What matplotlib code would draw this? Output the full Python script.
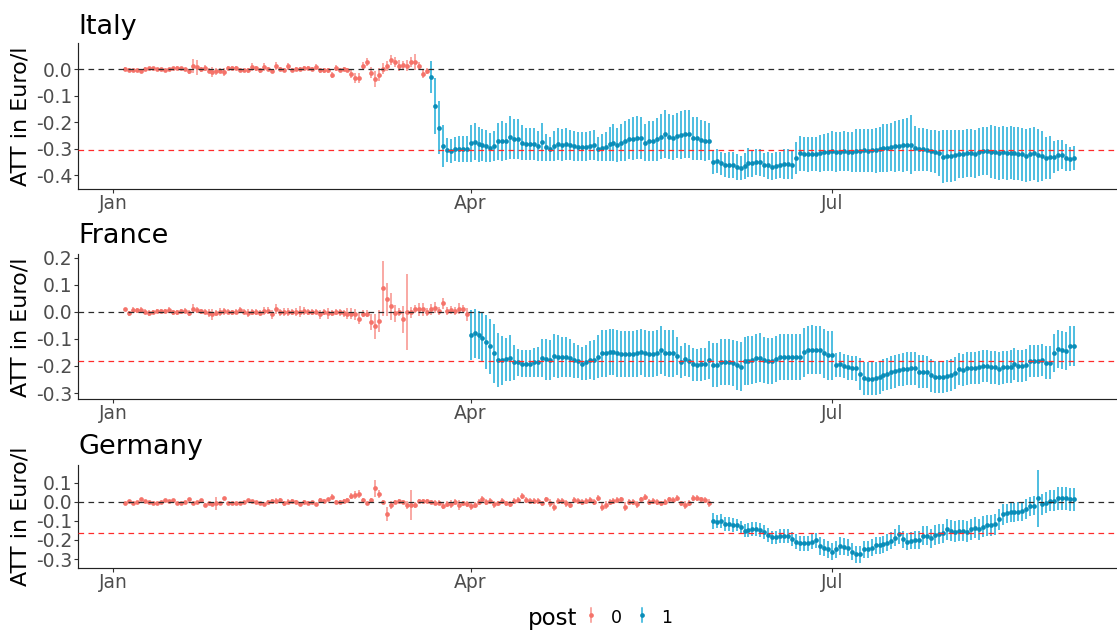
import numpy as np
import matplotlib
matplotlib.use("Agg")
import matplotlib.pyplot as plt
import matplotlib.dates as mdates
from matplotlib.lines import Line2D

plt.rcParams['font.family'] = ['DejaVu Sans']
plt.rcParams['axes.unicode_minus'] = False

# ---------------- data (ATT in Euro/l, daily) ----------------
countries = ["Italy", "France", "Germany"]
pre_start = ["2022-01-04", "2022-01-04", "2022-01-04"]
post_start = ["2022-03-22", "2022-04-01", "2022-06-01"]
att_mean = [-0.306, -0.182, -0.165]

italy_pre = [
    0.000, -0.003, -0.004, -0.004, -0.008, 0.000, 0.003, 0.003, -0.001, -0.001,
    -0.004, 0.000, 0.003, 0.004, 0.003, -0.001, -0.009, 0.011, 0.006, -0.001,
    0.003, -0.006, -0.011, -0.009, -0.006, -0.011, 0.004, 0.004, 0.005, -0.003,
    -0.005, -0.005, 0.009, 0.003, -0.005, 0.006, 0.000, -0.006, 0.011, -0.001,
    -0.004, 0.011, -0.004, -0.001, 0.001, 0.003, 0.005, 0.000, 0.008, -0.005,
    -0.005, -0.005, -0.023, 0.003, -0.003, -0.001, -0.003, -0.019, -0.033, -0.033,
    0.013, 0.026, -0.014, -0.039, -0.021, 0.001, 0.011, 0.034, 0.026, 0.013,
    0.016, 0.013, 0.026, 0.026, 0.011, -0.019, -0.008]
italy_pre_err = [
    0.006, 0.006, 0.005, 0.006, 0.006, 0.006, 0.006, 0.005, 0.006, 0.006,
    0.006, 0.005, 0.006, 0.006, 0.005, 0.006, 0.008, 0.025, 0.028, 0.010,
    0.012, 0.010, 0.020, 0.012, 0.010, 0.015, 0.008, 0.008, 0.008, 0.006,
    0.006, 0.008, 0.015, 0.010, 0.008, 0.015, 0.008, 0.008, 0.015, 0.008,
    0.008, 0.013, 0.008, 0.008, 0.008, 0.008, 0.008, 0.008, 0.010, 0.008,
    0.008, 0.008, 0.012, 0.012, 0.008, 0.008, 0.008, 0.015, 0.020, 0.020,
    0.012, 0.015, 0.020, 0.030, 0.025, 0.020, 0.020, 0.020, 0.020, 0.020,
    0.015, 0.020, 0.020, 0.030, 0.015, 0.015, 0.012]
italy_post = [
    -0.030, -0.139, -0.220, -0.289, -0.305, -0.308, -0.302, -0.301, -0.301, -0.301,
    -0.279, -0.273, -0.283, -0.286, -0.289, -0.296, -0.289, -0.271, -0.269, -0.271,
    -0.257, -0.263, -0.263, -0.277, -0.282, -0.282, -0.282, -0.289, -0.274, -0.294,
    -0.301, -0.289, -0.282, -0.286, -0.282, -0.286, -0.289, -0.292, -0.292, -0.292,
    -0.288, -0.286, -0.301, -0.296, -0.292, -0.282, -0.277, -0.286, -0.277, -0.269,
    -0.264, -0.262, -0.258, -0.260, -0.277, -0.269, -0.269, -0.264, -0.254, -0.244,
    -0.254, -0.258, -0.251, -0.248, -0.243, -0.244, -0.261, -0.261, -0.267, -0.269,
    -0.271, -0.348, -0.346, -0.355, -0.361, -0.361, -0.360, -0.368, -0.373, -0.365,
    -0.352, -0.355, -0.350, -0.351, -0.361, -0.362, -0.367, -0.363, -0.360, -0.357,
    -0.357, -0.360, -0.336, -0.317, -0.320, -0.321, -0.320, -0.320, -0.317, -0.313,
    -0.312, -0.307, -0.313, -0.310, -0.308, -0.310, -0.313, -0.307, -0.307, -0.306,
    -0.307, -0.306, -0.305, -0.302, -0.298, -0.296, -0.294, -0.291, -0.288, -0.286,
    -0.284, -0.284, -0.298, -0.302, -0.302, -0.305, -0.308, -0.311, -0.317, -0.330,
    -0.327, -0.327, -0.325, -0.321, -0.321, -0.317, -0.317, -0.318, -0.313, -0.308,
    -0.308, -0.311, -0.313, -0.317, -0.313, -0.316, -0.315, -0.317, -0.318, -0.320,
    -0.326, -0.320, -0.317, -0.325, -0.327, -0.335, -0.332, -0.332, -0.325, -0.322,
    -0.333, -0.337, -0.333]
italy_post_err = [
    0.060, 0.105, 0.100, 0.078, 0.045, 0.045, 0.045, 0.050, 0.050, 0.050,
    0.070, 0.070, 0.065, 0.060, 0.060, 0.055, 0.055, 0.070, 0.075, 0.070,
    0.080, 0.075, 0.075, 0.065, 0.060, 0.060, 0.060, 0.055, 0.070, 0.050,
    0.045, 0.055, 0.060, 0.060, 0.060, 0.055, 0.055, 0.055, 0.055, 0.055,
    0.055, 0.055, 0.045, 0.050, 0.055, 0.065, 0.070, 0.065, 0.070, 0.075,
    0.075, 0.080, 0.080, 0.080, 0.070, 0.075, 0.075, 0.080, 0.085, 0.090,
    0.085, 0.085, 0.085, 0.090, 0.090, 0.090, 0.080, 0.080, 0.075, 0.075,
    0.070, 0.045, 0.045, 0.045, 0.045, 0.050, 0.050, 0.050, 0.045, 0.050,
    0.055, 0.050, 0.050, 0.050, 0.045, 0.050, 0.050, 0.050, 0.050, 0.055,
    0.055, 0.055, 0.060, 0.065, 0.065, 0.065, 0.065, 0.065, 0.070, 0.070,
    0.070, 0.075, 0.075, 0.075, 0.075, 0.075, 0.075, 0.080, 0.080, 0.080,
    0.080, 0.080, 0.085, 0.085, 0.090, 0.090, 0.090, 0.095, 0.095, 0.100,
    0.100, 0.110, 0.085, 0.080, 0.080, 0.080, 0.080, 0.080, 0.085, 0.100,
    0.097, 0.097, 0.097, 0.090, 0.090, 0.090, 0.090, 0.090, 0.090, 0.090,
    0.090, 0.100, 0.100, 0.100, 0.100, 0.100, 0.100, 0.100, 0.100, 0.100,
    0.100, 0.100, 0.100, 0.100, 0.095, 0.080, 0.080, 0.060, 0.060, 0.055,
    0.050, 0.045, 0.045]

france_pre = [
    0.009, -0.006, 0.006, 0.005, 0.006, 0.000, -0.004, 0.000, 0.002, 0.002,
    0.002, 0.006, -0.002, -0.002, 0.002, 0.004, -0.004, 0.012, 0.006, 0.002,
    0.000, -0.006, -0.009, -0.004, 0.000, 0.001, 0.000, -0.002, 0.000, 0.007,
    0.000, -0.006, 0.000, 0.000, -0.004, 0.004, 0.004, -0.010, 0.010, -0.002,
    0.000, -0.002, -0.001, 0.000, 0.000, 0.004, 0.000, 0.000, 0.000, -0.010,
    0.000, -0.006, -0.005, 0.000, -0.002, -0.006, -0.007, -0.007, -0.010, -0.025,
    -0.007, -0.007, -0.037, -0.054, -0.033, 0.086, 0.046, 0.021, -0.006, 0.000,
    -0.027, 0.000, -0.002, 0.010, 0.009, 0.009, 0.000, 0.009, 0.015, 0.004,
    0.031, 0.002, 0.006, 0.002, 0.012, 0.011, -0.010]
france_pre_err = [
    0.005, 0.008, 0.010, 0.010, 0.012, 0.010, 0.010, 0.008, 0.008, 0.008,
    0.008, 0.010, 0.010, 0.010, 0.010, 0.010, 0.010, 0.015, 0.012, 0.010,
    0.010, 0.015, 0.020, 0.012, 0.015, 0.012, 0.010, 0.010, 0.010, 0.010,
    0.010, 0.015, 0.012, 0.012, 0.012, 0.015, 0.012, 0.015, 0.020, 0.012,
    0.015, 0.015, 0.012, 0.015, 0.020, 0.015, 0.012, 0.012, 0.010, 0.015,
    0.012, 0.020, 0.012, 0.012, 0.012, 0.012, 0.020, 0.020, 0.020, 0.020,
    0.012, 0.012, 0.030, 0.045, 0.040, 0.100, 0.060, 0.050, 0.030, 0.015,
    0.050, 0.140, 0.020, 0.015, 0.025, 0.025, 0.015, 0.020, 0.020, 0.015,
    0.020, 0.015, 0.015, 0.015, 0.020, 0.015, 0.025]
france_post = [
    -0.086, -0.080, -0.086, -0.095, -0.113, -0.128, -0.154, -0.177, -0.179, -0.176,
    -0.170, -0.186, -0.187, -0.192, -0.192, -0.191, -0.187, -0.186, -0.172, -0.176,
    -0.178, -0.162, -0.166, -0.167, -0.167, -0.170, -0.179, -0.183, -0.191, -0.186,
    -0.179, -0.178, -0.166, -0.154, -0.154, -0.148, -0.148, -0.154, -0.156, -0.157,
    -0.157, -0.157, -0.154, -0.148, -0.154, -0.157, -0.156, -0.151, -0.141, -0.151,
    -0.154, -0.154, -0.164, -0.186, -0.176, -0.181, -0.194, -0.197, -0.194, -0.193,
    -0.178, -0.197, -0.197, -0.184, -0.186, -0.187, -0.188, -0.198, -0.203, -0.182,
    -0.181, -0.178, -0.172, -0.170, -0.178, -0.182, -0.182, -0.176, -0.166, -0.168,
    -0.168, -0.167, -0.166, -0.168, -0.150, -0.141, -0.140, -0.141, -0.141, -0.154,
    -0.160, -0.161, -0.197, -0.194, -0.200, -0.205, -0.207, -0.209, -0.230, -0.246,
    -0.247, -0.247, -0.246, -0.242, -0.234, -0.229, -0.224, -0.220, -0.215, -0.213,
    -0.210, -0.209, -0.209, -0.221, -0.221, -0.222, -0.235, -0.240, -0.241, -0.240,
    -0.237, -0.234, -0.226, -0.212, -0.215, -0.209, -0.208, -0.207, -0.205, -0.200,
    -0.200, -0.205, -0.205, -0.210, -0.205, -0.203, -0.202, -0.192, -0.200, -0.200,
    -0.197, -0.182, -0.181, -0.182, -0.178, -0.188, -0.188, -0.151, -0.139, -0.141,
    -0.145, -0.126, -0.126]
france_post_err = [
    0.092, 0.090, 0.090, 0.090, 0.100, 0.100, 0.110, 0.100, 0.090, 0.080,
    0.085, 0.065, 0.050, 0.050, 0.050, 0.050, 0.055, 0.055, 0.070, 0.075,
    0.075, 0.080, 0.080, 0.075, 0.075, 0.070, 0.065, 0.060, 0.060, 0.065,
    0.070, 0.075, 0.080, 0.085, 0.085, 0.085, 0.085, 0.085, 0.085, 0.085,
    0.085, 0.085, 0.085, 0.085, 0.085, 0.085, 0.085, 0.085, 0.090, 0.085,
    0.085, 0.085, 0.070, 0.060, 0.060, 0.060, 0.060, 0.060, 0.060, 0.060,
    0.070, 0.080, 0.080, 0.085, 0.085, 0.085, 0.085, 0.090, 0.090, 0.090,
    0.090, 0.090, 0.090, 0.090, 0.085, 0.085, 0.085, 0.085, 0.085, 0.085,
    0.085, 0.085, 0.085, 0.085, 0.090, 0.090, 0.090, 0.090, 0.090, 0.090,
    0.090, 0.090, 0.045, 0.045, 0.045, 0.045, 0.045, 0.045, 0.060, 0.060,
    0.060, 0.060, 0.060, 0.060, 0.060, 0.060, 0.060, 0.060, 0.060, 0.060,
    0.060, 0.060, 0.060, 0.060, 0.060, 0.060, 0.060, 0.060, 0.060, 0.060,
    0.060, 0.060, 0.060, 0.060, 0.060, 0.060, 0.060, 0.060, 0.060, 0.060,
    0.060, 0.060, 0.060, 0.060, 0.060, 0.060, 0.060, 0.060, 0.060, 0.060,
    0.060, 0.060, 0.060, 0.060, 0.060, 0.060, 0.060, 0.070, 0.070, 0.070,
    0.070, 0.075, 0.075]

germany_pre = [
    -0.009, 0.004, -0.005, 0.000, 0.014, 0.002, 0.000, -0.009, -0.009, 0.000,
    0.009, 0.005, 0.007, -0.009, -0.009, -0.002, 0.012, -0.009, 0.000, 0.007,
    -0.017, -0.009, -0.012, -0.009, -0.009, 0.019, -0.009, -0.009, -0.007, -0.009,
    0.000, 0.009, 0.005, -0.002, -0.009, -0.014, -0.002, 0.005, 0.005, 0.007,
    -0.009, 0.000, 0.004, 0.000, -0.012, -0.002, -0.005, -0.002, -0.014, 0.009,
    0.004, 0.014, 0.026, 0.000, 0.000, 0.004, 0.009, 0.030, 0.035, 0.040,
    0.009, -0.009, 0.009, 0.070, 0.040, 0.000, -0.066, -0.017, 0.000, 0.002,
    -0.002, -0.017, -0.017, -0.017, 0.005, 0.004, 0.002, 0.000, -0.005, -0.005,
    -0.023, -0.012, -0.012, 0.000, -0.016, -0.009, -0.012, -0.023, -0.017, 0.000,
    0.014, 0.000, 0.005, -0.014, -0.009, 0.005, -0.009, -0.010, 0.004, 0.009,
    0.030, 0.009, 0.005, 0.005, 0.005, -0.009, 0.012, -0.005, -0.026, 0.004,
    0.004, -0.009, -0.016, 0.009, 0.005, 0.000, 0.005, 0.009, 0.000, 0.019,
    -0.026, -0.017, -0.003, 0.004, 0.009, 0.012, -0.026, -0.003, 0.000, -0.014,
    0.012, 0.025, 0.000, 0.005, 0.000, -0.009, 0.000, 0.012, 0.009, 0.018,
    -0.009, -0.017, -0.005, 0.021, 0.018, 0.012, 0.009, -0.005]
germany_pre_err = [
    0.006, 0.006, 0.006, 0.006, 0.006, 0.006, 0.006, 0.006, 0.006, 0.006,
    0.006, 0.006, 0.006, 0.006, 0.006, 0.006, 0.006, 0.006, 0.006, 0.006,
    0.008, 0.008, 0.008, 0.035, 0.008, 0.008, 0.006, 0.006, 0.006, 0.006,
    0.006, 0.006, 0.006, 0.006, 0.006, 0.006, 0.010, 0.010, 0.012, 0.012,
    0.015, 0.012, 0.012, 0.010, 0.012, 0.010, 0.010, 0.008, 0.008, 0.008,
    0.008, 0.008, 0.012, 0.008, 0.008, 0.008, 0.010, 0.015, 0.020, 0.020,
    0.010, 0.010, 0.012, 0.045, 0.020, 0.010, 0.037, 0.020, 0.010, 0.010,
    0.010, 0.020, 0.080, 0.015, 0.010, 0.010, 0.010, 0.010, 0.012, 0.012,
    0.015, 0.015, 0.020, 0.015, 0.025, 0.015, 0.015, 0.020, 0.015, 0.015,
    0.015, 0.015, 0.015, 0.020, 0.015, 0.015, 0.015, 0.015, 0.015, 0.015,
    0.015, 0.015, 0.015, 0.015, 0.015, 0.015, 0.015, 0.020, 0.025, 0.015,
    0.015, 0.020, 0.015, 0.015, 0.015, 0.015, 0.015, 0.015, 0.015, 0.015,
    0.025, 0.020, 0.015, 0.015, 0.015, 0.015, 0.025, 0.015, 0.015, 0.020,
    0.015, 0.015, 0.015, 0.015, 0.015, 0.015, 0.015, 0.015, 0.015, 0.015,
    0.015, 0.020, 0.015, 0.015, 0.015, 0.015, 0.015, 0.020]
germany_post = [
    -0.101, -0.105, -0.101, -0.117, -0.117, -0.122, -0.122, -0.134, -0.152, -0.148,
    -0.143, -0.143, -0.148, -0.159, -0.174, -0.187, -0.187, -0.180, -0.180, -0.180,
    -0.195, -0.209, -0.218, -0.218, -0.218, -0.209, -0.201, -0.232, -0.241, -0.249,
    -0.262, -0.249, -0.232, -0.235, -0.241, -0.262, -0.274, -0.274, -0.248, -0.248,
    -0.241, -0.227, -0.227, -0.223, -0.215, -0.204, -0.188, -0.171, -0.197, -0.209,
    -0.204, -0.200, -0.200, -0.178, -0.178, -0.192, -0.174, -0.169, -0.166, -0.143,
    -0.153, -0.157, -0.153, -0.153, -0.157, -0.145, -0.136, -0.143, -0.131, -0.122,
    -0.122, -0.117, -0.092, -0.066, -0.061, -0.056, -0.056, -0.052, -0.049, -0.038,
    -0.023, -0.021, 0.018, -0.014, -0.005, 0.004, 0.005, 0.018, 0.018, 0.018,
    0.014, 0.014]
germany_post_err = [
    0.040, 0.035, 0.035, 0.035, 0.035, 0.035, 0.030, 0.035, 0.035, 0.035,
    0.035, 0.035, 0.035, 0.035, 0.035, 0.035, 0.035, 0.035, 0.035, 0.035,
    0.035, 0.040, 0.040, 0.040, 0.040, 0.040, 0.040, 0.045, 0.045, 0.045,
    0.045, 0.045, 0.045, 0.045, 0.045, 0.045, 0.045, 0.045, 0.045, 0.045,
    0.045, 0.045, 0.045, 0.045, 0.045, 0.045, 0.045, 0.050, 0.045, 0.045,
    0.045, 0.045, 0.045, 0.050, 0.050, 0.050, 0.050, 0.050, 0.050, 0.055,
    0.055, 0.055, 0.055, 0.055, 0.055, 0.055, 0.055, 0.055, 0.055, 0.055,
    0.055, 0.055, 0.055, 0.055, 0.050, 0.050, 0.050, 0.050, 0.050, 0.050,
    0.050, 0.050, 0.150, 0.055, 0.055, 0.055, 0.055, 0.060, 0.060, 0.060,
    0.060, 0.060]

y_ticks = [[0.0, -0.1, -0.2, -0.3, -0.4],
           [0.2, 0.1, 0.0, -0.1, -0.2, -0.3],
           [0.1, 0.0, -0.1, -0.2, -0.3]]
y_limits = [(-0.451, 0.098), (-0.323, 0.212), (-0.345, 0.192)]
x_tick_dates = ["2022-01-01", "2022-04-01", "2022-07-01"]
x_tick_labels = ["Jan", "Apr", "Jul"]
legend_title = "post"
legend_labels = ["0", "1"]
y_label = "ATT in Euro/l"

pre_vals = [italy_pre, france_pre, germany_pre]
pre_errs = [italy_pre_err, france_pre_err, germany_pre_err]
post_vals = [italy_post, france_post, germany_post]
post_errs = [italy_post_err, france_post_err, germany_post_err]

# ---------------- style ----------------
RED_BAR = "#F8918A"
RED_PT = "#F5736A"
BLUE_BAR = "#26B0DA"
BLUE_PT = "#0A8DB8"
TICK_COL = "#4D4D4D"
ZERO_COL = "#2A2A2A"
ATT_COL = "#FF2A2A"

W, H = 1117, 632
fig = plt.figure(figsize=(W / 100, H / 100), dpi=100)

# panel pixel boxes: (top, bottom, title baseline)
panel_px = [(43.0, 189.0, 33.5), (254.3, 399.3, 243.5), (465.0, 567.7, 454.5)]
left_px, right_px = 77.7, 1121.5

for i, name in enumerate(countries):
    top, bot, tbase = panel_px[i]
    ax = fig.add_axes([left_px / W, 1 - bot / H, (right_px - left_px) / W, (bot - top) / H])

    pre = np.array(pre_vals[i]); pe = np.array(pre_errs[i])
    post = np.array(post_vals[i]); qe = np.array(post_errs[i])
    d_pre = np.datetime64(pre_start[i]) + np.arange(len(pre))
    d_post = np.datetime64(post_start[i]) + np.arange(len(post))

    ax.vlines(d_pre, pre - pe, pre + pe, color=RED_BAR, lw=1.1, zorder=2)
    ax.plot(d_pre, pre, 'o', ms=3.4, color=RED_PT, mec='none', zorder=2.5)
    ax.vlines(d_post, post - qe, post + qe, color=BLUE_BAR, lw=1.15, zorder=2)
    ax.plot(d_post, post, 'o', ms=3.4, color=BLUE_PT, mec='none', zorder=2.5)

    ax.axhline(0.0, color=ZERO_COL, lw=0.9, dashes=(4.5, 3.5), zorder=3)
    ax.axhline(att_mean[i], color=ATT_COL, lw=0.9, dashes=(4.5, 3.5), zorder=3)

    first = mdates.date2num(d_pre[0]); last = mdates.date2num(d_post[-1])
    pad = 0.05 * (last - first)
    ax.set_xlim(first - pad, last + pad)
    ax.set_ylim(*y_limits[i])

    ax.set_xticks([mdates.date2num(np.datetime64(d)) for d in x_tick_dates])
    ax.set_xticklabels(x_tick_labels)
    ax.set_yticks(y_ticks[i])
    ax.set_yticklabels(["%.1f" % v for v in y_ticks[i]])

    for s in ["top", "right"]:
        ax.spines[s].set_visible(False)
    for s in ["left", "bottom"]:
        ax.spines[s].set_color("#222222")
        ax.spines[s].set_linewidth(0.85)
    ax.tick_params(axis='both', length=2.8, width=0.8, color="#333333",
                   labelsize=13.5, labelcolor=TICK_COL)
    ax.tick_params(axis='x', pad=0.9)
    ax.tick_params(axis='y', pad=1.2)

    fig.text(78.5 / W, 1 - tbase / H, name, fontsize=19.5, ha='left', va='baseline', color='black')
    fig.text(11.0 / W, 1 - (top + bot) / 2 / H, y_label, rotation=90, fontsize=16,
             ha='left', va='center', color='black')

# ---------------- legend ----------------
fig.text(528 / W, 1 - 624.5 / H, legend_title, fontsize=16.5, ha='left', va='baseline')
key_x = [590.7, 641.7]
key_cols = [(RED_BAR, RED_PT), (BLUE_BAR, BLUE_PT)]
lab_x = [616.0, 666.5]
for kx, (bc, pc), lx, lab in zip(key_x, key_cols, lab_x, legend_labels):
    fig.add_artist(Line2D([kx / W, kx / W], [1 - 608 / H, 1 - 622 / H], color=bc, lw=1.1,
                          transform=fig.transFigure))
    fig.add_artist(Line2D([kx / W], [1 - 615 / H], marker='o', ms=3.4, color=pc, mec='none',
                          transform=fig.transFigure))
    fig.text(lx / W, 1 - 622.7 / H, lab, fontsize=12.5, ha='center', va='baseline')

fig.savefig("out.png", dpi=100)
